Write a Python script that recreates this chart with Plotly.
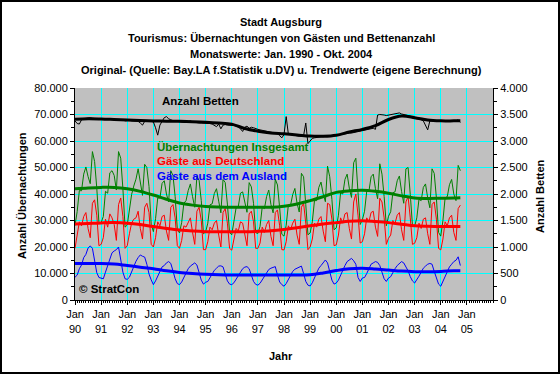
import plotly.graph_objects as go

# ---- monthly values (thousands of overnight stays), Jan 1990 - Oct 2004 ----
gaeste_insgesamt = [
    28.1, 33.4, 41.3, 41.2, 47.5, 50.2, 46.6, 43.9, 56.0, 52.3, 42.3, 29.0,  # 1990
    29.2, 31.5, 41.0, 40.3, 48.0, 48.8, 47.0, 41.5, 56.0, 53.5, 42.0, 27.5,  # 1991
    28.3, 33.6, 39.8, 43.0, 45.6, 49.5, 44.0, 39.5, 51.2, 50.0, 42.8, 28.6,  # 1992
    25.8, 30.7, 38.5, 38.5, 44.0, 45.0, 40.0, 37.0, 48.8, 47.0, 39.0, 26.7,  # 1993
    25.3, 29.3, 36.5, 37.5, 41.3, 43.8, 39.0, 35.0, 46.7, 45.2, 37.5, 25.0,  # 1994
    25.7, 29.0, 35.9, 36.3, 40.2, 42.0, 37.3, 32.9, 45.5, 44.3, 36.2, 25.5,  # 1995
    24.6, 29.0, 34.8, 35.2, 40.3, 40.8, 37.4, 33.1, 44.3, 42.7, 36.5, 25.4,  # 1996
    25.1, 27.8, 35.1, 34.5, 39.0, 41.5, 36.0, 32.9, 45.6, 43.4, 34.8, 24.8,  # 1997
    24.1, 28.2, 35.8, 35.7, 39.8, 42.1, 36.5, 33.2, 47.8, 46.5, 36.0, 24.6,  # 1998
    25.3, 29.5, 37.5, 37.5, 42.5, 44.5, 40.0, 37.1, 50.5, 46.5, 38.0, 26.5,  # 1999
    27.2, 32.0, 40.5, 40.0, 45.5, 47.5, 42.2, 38.7, 51.8, 53.5, 40.5, 28.5,  # 2000
    30.3, 33.5, 41.0, 41.0, 46.5, 47.5, 42.0, 38.2, 51.4, 47.5, 39.0, 28.0,  # 2001
    31.6, 33.3, 40.5, 40.8, 45.0, 46.8, 41.0, 36.5, 49.5, 50.0, 39.8, 28.2,  # 2002
    27.8, 31.0, 38.0, 37.5, 42.5, 43.8, 38.5, 34.8, 49.5, 47.8, 38.5, 25.5,  # 2003
    24.1, 30.0, 38.5, 39.0, 43.5, 45.5, 40.0, 37.5, 50.8, 48.8,              # 2004
]
gaeste_deutschland = [
    19.5, 24.0, 29.5, 28.0, 31.5, 33.0, 27.0, 23.5, 36.5, 37.8, 32.0, 20.5,
    21.0, 23.5, 30.5, 27.5, 32.5, 31.0, 28.5, 22.5, 36.0, 38.5, 31.5, 19.5,
    20.5, 25.0, 29.0, 30.5, 31.0, 33.5, 27.0, 23.0, 35.0, 36.5, 33.0, 21.0,
    20.0, 23.5, 29.5, 28.0, 31.5, 32.0, 26.0, 22.5, 35.0, 36.0, 31.0, 20.5,
    19.5, 22.5, 28.0, 27.5, 29.5, 31.0, 25.5, 21.0, 33.5, 35.0, 30.0, 19.0,
    19.0, 22.0, 27.5, 26.5, 29.0, 30.0, 24.5, 20.0, 33.0, 34.5, 29.0, 19.5,
    18.8, 22.5, 27.0, 26.0, 29.5, 29.0, 25.0, 20.5, 32.5, 33.5, 29.5, 19.5,
    19.5, 21.5, 27.5, 25.5, 28.5, 30.0, 24.0, 20.5, 33.0, 34.0, 28.0, 19.0,
    18.9, 22.0, 28.0, 26.5, 29.0, 30.5, 24.5, 21.0, 35.0, 36.5, 29.0, 19.0,
    20.0, 23.0, 29.0, 27.5, 30.5, 31.5, 26.0, 22.0, 36.5, 36.0, 30.5, 20.5,
    20.8, 24.5, 31.0, 29.0, 32.5, 33.0, 27.0, 23.0, 37.0, 40.0, 32.0, 21.5,
    22.0, 25.0, 31.0, 29.5, 33.0, 33.5, 27.5, 24.0, 38.4, 37.0, 31.0, 21.0,
    23.3, 24.5, 30.0, 29.0, 32.0, 33.0, 26.5, 22.5, 37.0, 39.0, 31.0, 21.0,
    21.4, 23.5, 29.0, 27.0, 30.5, 31.0, 25.0, 21.0, 36.0, 37.0, 30.5, 19.5,
    18.9, 23.0, 29.5, 28.0, 31.0, 32.0, 25.5, 22.5, 34.5, 35.8,
]
gaeste_ausland = [
    8.6, 9.4, 11.8, 13.2, 16.0, 17.2, 19.6, 20.4, 19.5, 14.5, 10.3, 8.5,
    8.2, 8.0, 10.5, 12.8, 15.5, 17.8, 18.5, 19.0, 20.0, 15.0, 10.5, 8.0,
    7.8, 8.6, 10.8, 12.5, 14.6, 16.0, 17.0, 16.5, 16.2, 13.5, 9.8, 7.6,
    5.8, 7.2, 9.0, 10.5, 12.5, 13.0, 14.0, 14.5, 13.8, 11.0, 8.0, 6.2,
    5.8, 6.8, 8.5, 10.0, 11.8, 12.8, 13.5, 14.0, 13.2, 10.2, 7.5, 6.0,
    6.7, 7.0, 8.4, 9.8, 11.2, 12.0, 12.8, 12.9, 12.5, 9.8, 7.2, 6.0,
    5.8, 6.5, 7.8, 9.2, 10.8, 11.8, 12.4, 12.6, 11.8, 9.2, 7.0, 5.9,
    5.6, 6.3, 7.6, 9.0, 10.5, 11.5, 12.0, 12.4, 12.6, 9.4, 6.8, 5.8,
    5.2, 6.2, 7.8, 9.2, 10.8, 11.6, 12.0, 12.2, 12.8, 10.0, 7.0, 5.6,
    5.3, 6.5, 8.5, 10.0, 12.0, 13.0, 14.0, 15.1, 14.0, 10.5, 7.5, 6.0,
    6.4, 7.5, 9.5, 11.0, 13.0, 14.5, 15.2, 15.7, 14.8, 13.5, 8.5, 7.0,
    8.3, 8.5, 10.0, 11.5, 13.5, 14.0, 14.5, 14.2, 13.0, 10.5, 8.0, 7.0,
    8.3, 8.8, 10.5, 11.8, 13.0, 13.8, 14.5, 14.0, 12.5, 11.0, 8.8, 7.2,
    6.4, 7.5, 9.0, 10.5, 12.0, 12.8, 13.5, 13.8, 13.5, 10.8, 8.0, 6.0,
    5.2, 7.0, 9.0, 11.0, 12.5, 13.5, 14.5, 15.0, 16.3, 13.0,
]
anzahl_betten = [
    3380, 3330, 3320, 3400, 3420, 3430, 3440, 3440, 3430, 3420, 3420, 3420,
    3410, 3420, 3420, 3420, 3410, 3410, 3400, 3400, 3410, 3410, 3400, 3380,
    3390, 3390, 3380, 3380, 3380, 3370, 3340, 3300, 3370, 3380, 3380, 3370,
    3360, 3250, 3110, 3300, 3380, 3440, 3460, 3420, 3400, 3380, 3370, 3370,
    3360, 3360, 3350, 3350, 3370, 3380, 3360, 3350, 3350, 3340, 3340, 3340,
    3340, 3330, 3330, 3320, 3300, 3270, 3320, 3230, 3300, 3310, 3300, 3300,
    3300, 3290, 3280, 3270, 3230, 3180, 3260, 3280, 3240, 3260, 3250, 3230,
    3220, 3210, 3200, 3190, 3180, 3170, 3160, 3150, 3150, 3140, 3100, 3060,
    3120, 3460, 3130, 3120, 3110, 3100, 3100, 3090, 3090, 3100, 3340, 2950,
    3000, 3050, 3060, 3070, 3070, 3080, 3080, 3090, 3090, 3100, 3100, 3110,
    3110, 3120, 3120, 3130, 3130, 3140, 3150, 3150, 3160, 3170, 3180, 3190,
    3200, 3210, 3220, 3230, 3230, 3240, 3220, 3490, 3500, 3500, 3490, 3480,
    3490, 3500, 3510, 3520, 3520, 3530, 3510, 3500, 3500, 3480, 3470, 3460,
    3440, 3430, 3410, 3400, 3380, 3300, 3210, 3380, 3380, 3380, 3380, 3380,
    3380, 3380, 3380, 3380, 3380, 3380, 3380, 3380, 3400, 3350,
]

# ---- trend values, every 6 months (month index from Jan 1990) ----
trend_monate = [0, 6, 12, 18, 24, 30, 36, 42, 48, 54, 60, 66, 72, 78, 84, 90,
                96, 102, 108, 114, 120, 126, 132, 138, 144, 150, 156, 162, 168, 174, 177]
trend_insgesamt = [42.0, 42.3, 42.5, 42.5, 42.0, 41.0, 39.6, 38.0, 36.6, 35.8, 35.3,
                   35.1, 35.0, 35.0, 35.0, 35.0, 35.4, 36.2, 37.5, 39.0, 40.6, 41.2,
                   41.4, 41.0, 40.3, 39.3, 38.5, 38.3, 38.4, 38.5, 38.6]
trend_deutschland = [28.7, 28.9, 29.1, 29.2, 29.0, 28.5, 27.7, 27.0, 26.4, 26.0, 25.8,
                     25.8, 25.8, 25.8, 25.9, 26.1, 26.6, 27.3, 28.0, 28.7, 29.2, 29.7,
                     29.9, 29.6, 29.2, 28.6, 28.0, 27.8, 27.7, 27.7, 27.7]
trend_ausland = [13.8, 13.8, 13.8, 13.6, 13.0, 12.4, 11.8, 11.0, 10.4, 10.0, 9.7,
                 9.5, 9.4, 9.4, 9.4, 9.4, 9.4, 9.4, 9.5, 10.2, 11.1, 11.8,
                 12.0, 11.7, 11.3, 10.9, 10.7, 10.7, 10.8, 11.0, 11.0]
trend_betten = [3410, 3420, 3415, 3405, 3395, 3385, 3378, 3375, 3372, 3365, 3355,
                3340, 3318, 3235, 3185, 3150, 3135, 3115, 3092, 3090, 3110, 3170,
                3220, 3290, 3405, 3470, 3440, 3395, 3380, 3380, 3380]

tick_monate = [0, 12, 24, 36, 48, 60, 72, 84, 96, 108, 120, 132, 144, 156, 168, 180]
tick_labels = ["Jan<br>90", "Jan<br>91", "Jan<br>92", "Jan<br>93", "Jan<br>94", "Jan<br>95",
               "Jan<br>96", "Jan<br>97", "Jan<br>98", "Jan<br>99", "Jan<br>00", "Jan<br>01",
               "Jan<br>02", "Jan<br>03", "Jan<br>04", "Jan<br>05"]

FONT = "Liberation Sans, Arial, sans-serif"
GREEN, RED, BLUE, BLACK = "#008000", "#FF0000", "#0000FF", "#000000"

monate = list(range(len(gaeste_insgesamt)))
k = lambda v: [a * 1000 for a in v]

fig = go.Figure()
for ys, c in [(gaeste_insgesamt, GREEN), (gaeste_deutschland, RED), (gaeste_ausland, BLUE)]:
    fig.add_trace(go.Scatter(x=monate, y=k(ys), mode="lines", line=dict(color=c, width=1)))
fig.add_trace(go.Scatter(x=monate, y=anzahl_betten, mode="lines", yaxis="y2",
                         line=dict(color=BLACK, width=1)))
for ys, c in [(trend_insgesamt, GREEN), (trend_deutschland, RED), (trend_ausland, BLUE)]:
    fig.add_trace(go.Scatter(x=trend_monate, y=k(ys), mode="lines",
                             line=dict(color=c, width=3, shape="spline")))
fig.add_trace(go.Scatter(x=trend_monate, y=trend_betten, mode="lines", yaxis="y2",
                         line=dict(color=BLACK, width=3, shape="spline")))

tickfont = dict(family=FONT, size=11, color="black")
fig.update_layout(
    width=560, height=374,
    margin=dict(l=75, r=67, t=88, b=74, pad=0),
    paper_bgcolor="white", plot_bgcolor="#C0C0C0",
    showlegend=False, separators=",.",
    font=dict(family=FONT, size=11, color="black"),
    xaxis=dict(range=[0, 192], tickmode="array", tickvals=tick_monate, ticktext=tick_labels,
               ticks="outside", ticklen=4, tickcolor="black", showline=True, linecolor="black",
               linewidth=1, showgrid=True, gridcolor="#00FFFF", gridwidth=1, zeroline=False,
               tickfont=tickfont,
               minor=dict(tick0=0, dtick=1, ticks="outside", ticklen=2, tickcolor="black",
                          showgrid=False)),
    yaxis=dict(range=[0, 80000], dtick=10000, tickformat=",d", ticks="outside", ticklen=4,
               tickcolor="black", showline=True, linecolor="black", linewidth=1,
               showgrid=True, gridcolor="#00FFFF", gridwidth=1, zeroline=False,
               tickfont=tickfont,
               minor=dict(dtick=5000, ticks="outside", ticklen=3, tickcolor="black",
                          showgrid=False)),
    yaxis2=dict(range=[0, 4000], dtick=500, tickformat=",d", overlaying="y", side="right",
                ticks="outside", ticklen=4, tickcolor="black", showline=True,
                linecolor="black", linewidth=1, showgrid=False, zeroline=False,
                tickfont=tickfont,
                minor=dict(dtick=250, ticks="outside", ticklen=3, tickcolor="black")),
)

def px_x(p):
    return (p - 75) / 418.0

def px_y(p):
    return (300 - p) / 212.0

titles = ["Stadt Augsburg",
          "Tourismus: Übernachtungen von Gästen und Bettenanzahl",
          "Monatswerte: Jan. 1990 - Okt. 2004",
          "Original- (Quelle: Bay.LA f.Statistik u.DV) u. Trendwerte (eigene Berechnung)"]
for t, yy in zip(titles, [22, 38, 54, 70]):
    fig.add_annotation(text="<b>%s</b>" % t, xref="paper", yref="paper", x=px_x(281),
                       y=px_y(yy), xanchor="center", yanchor="middle", showarrow=False,
                       font=dict(family=FONT, size=11, color="black"))

labels = [("Anzahl Betten", BLACK, 160, 101),
          ("Übernachtungen Insgesamt", GREEN, 155, 147),
          ("Gäste aus Deutschland", RED, 155, 161),
          ("Gäste aus dem Ausland", BLUE, 155, 176),
          ("© StratCon", BLACK, 77, 289)]
for t, c, xx, yy in labels:
    fig.add_annotation(text="<b>%s</b>" % t, xref="paper", yref="paper", x=px_x(xx),
                       y=px_y(yy), xanchor="left", yanchor="middle", showarrow=False,
                       font=dict(family=FONT, size=11.5, color=c))

fig.add_annotation(text="<b>Anzahl Übernachtungen</b>", xref="paper", yref="paper",
                   x=px_x(22), y=px_y(196), textangle=-90, showarrow=False,
                   xanchor="center", yanchor="middle", font=dict(family=FONT, size=11))
fig.add_annotation(text="<b>Anzahl Betten</b>", xref="paper", yref="paper",
                   x=px_x(540), y=px_y(196), textangle=-90, showarrow=False,
                   xanchor="center", yanchor="middle", font=dict(family=FONT, size=11))
fig.add_annotation(text="<b>Jahr</b>", xref="paper", yref="paper",
                   x=px_x(281), y=px_y(356), showarrow=False,
                   xanchor="center", yanchor="middle", font=dict(family=FONT, size=11))

fig.add_shape(type="rect", xref="paper", yref="paper",
              x0=px_x(1), x1=px_x(559), y0=px_y(373), y1=px_y(1),
              line=dict(color="black", width=2), fillcolor="rgba(0,0,0,0)", layer="above")

fig.write_html("out.html", config={"displayModeBar": False},
               post_script="document.body.style.margin='0';document.body.style.overflow='hidden';")
